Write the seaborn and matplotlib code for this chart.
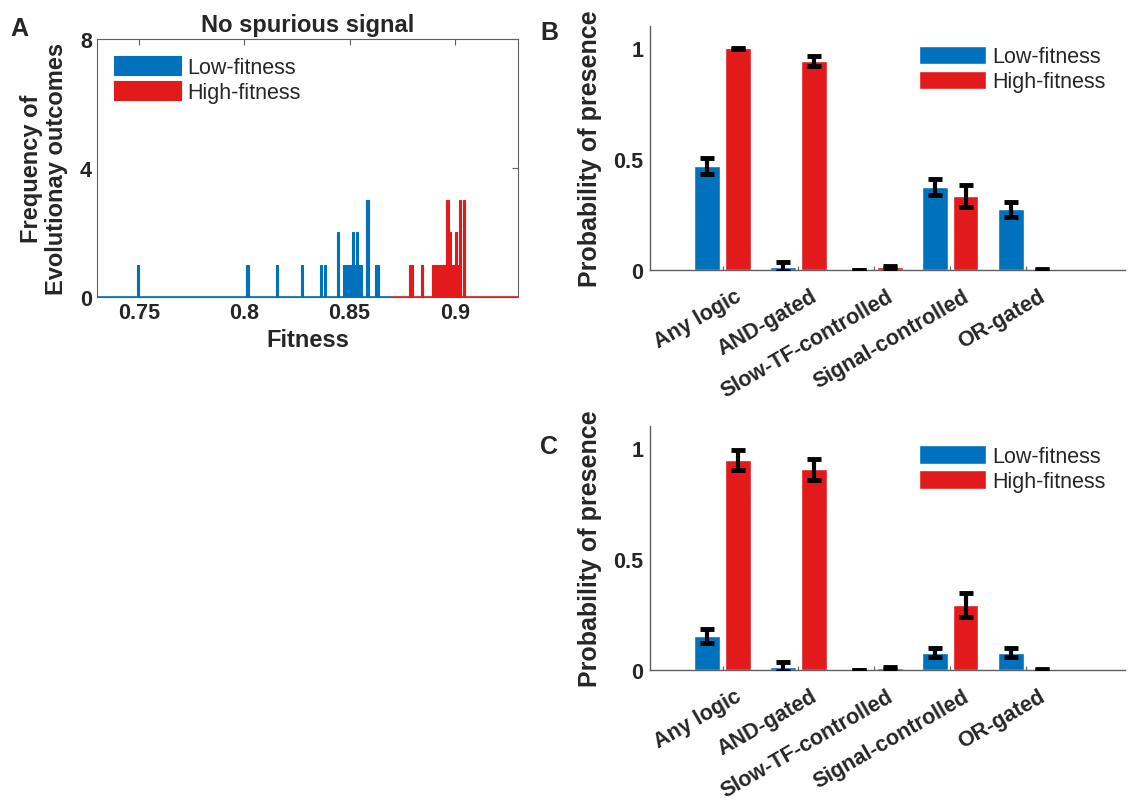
import numpy as np
import pandas as pd
import matplotlib
matplotlib.use("Agg")
import matplotlib.pyplot as plt
import matplotlib.transforms as mtransforms
import seaborn as sns

# panel A: fitness of individual evolutionary outcomes
low_fitness = [0.7495, 0.8015, 0.8155, 0.8275, 0.8365, 0.8385, 0.8445, 0.8445,
               0.8475, 0.8485, 0.8495, 0.8505, 0.8515, 0.8515, 0.8525, 0.8535,
               0.8535, 0.8545, 0.8555, 0.8585, 0.8585, 0.8585, 0.8625, 0.8635]
high_fitness = [0.8785, 0.8795, 0.8845, 0.8895, 0.8905, 0.8915, 0.8925, 0.8935,
                0.8945, 0.8955, 0.8965, 0.8965, 0.8965, 0.8975, 0.8975, 0.8985,
                0.8995, 0.9005, 0.9005, 0.9015, 0.9025, 0.9025, 0.9025,
                0.9045, 0.9045, 0.9045]
low_range = (0.73, 0.87)
high_range = (0.87, 0.93)

# panels B and C: probability of presence
categories = ["Any logic", "AND-gated", "Slow-TF-controlled", "Signal-controlled", "OR-gated"]
b_low = [0.47, 0.015, 0.0, 0.375, 0.275]
b_low_err = [0.037, 0.02, 0.0, 0.036, 0.034]
b_high = [1.0, 0.945, 0.015, 0.333, 0.003]
b_high_err = [0.002, 0.022, 0.005, 0.05, 0.003]
c_low = [0.153, 0.015, 0.0, 0.078, 0.078]
c_low_err = [0.031, 0.02, 0.0, 0.021, 0.021]
c_high = [0.947, 0.905, 0.008, 0.293, 0.003]
c_high_err = [0.045, 0.048, 0.004, 0.052, 0.003]

blue = "#0072BD"
red = "#E31A1C"
txt = "#262626"
spine = "#606060"

sns.set_style("white")
plt.rcParams["font.family"] = ["Liberation Sans", "DejaVu Sans"]
plt.rcParams["text.color"] = txt
plt.rcParams["axes.labelcolor"] = txt
plt.rcParams["xtick.color"] = txt
plt.rcParams["ytick.color"] = txt

fig = plt.figure(figsize=(11.33, 8.03), dpi=100)

leg_kw = dict(frameon=False, fontsize=15.5, handlelength=3.1, handleheight=0.95,
              handletextpad=0.3, labelspacing=0.15)

# ---- panel A ----
axA = fig.add_axes([0.0856, 0.629, 0.3716, 0.321])
sns.histplot(x=low_fitness, binwidth=0.001, binrange=low_range, color=blue,
             alpha=1, edgecolor=blue, linewidth=0.8, ax=axA, label="Low-fitness")
sns.histplot(x=high_fitness, binwidth=0.001, binrange=high_range, color=red,
             alpha=1, edgecolor=red, linewidth=0.8, ax=axA, label="High-fitness")
# empty bins show up as a coloured line along the baseline
axA.hlines(0, *low_range, color=blue, lw=1.2, clip_on=False, zorder=3)
axA.hlines(0, *high_range, color=red, lw=1.2, clip_on=False, zorder=3)
axA.set_xlim(0.73, 0.93)
axA.set_ylim(0, 8)
axA.set_xticks([0.75, 0.8, 0.85, 0.9])
axA.set_xticklabels(["0.75", "0.8", "0.85", "0.9"])
axA.set_yticks([0, 4, 8])
axA.tick_params(direction="in", top=True, right=True, length=4, width=0.8,
                labelsize=15.5, colors=spine, labelcolor=txt)
for lab in axA.get_xticklabels() + axA.get_yticklabels():
    lab.set_fontweight("bold")
for s in axA.spines.values():
    s.set_color(spine)
    s.set_linewidth(0.8)
axA.set_xlabel("Fitness", fontsize=17, fontweight="bold", labelpad=4)
axA.set_ylabel("Frequency of\nEvolutionay outcomes", fontsize=17, fontweight="bold",
               labelpad=9, linespacing=1.1)
axA.set_title("No spurious signal", fontsize=17, fontweight="bold", pad=6)
axA.legend(loc="upper left", borderaxespad=0.4, **leg_kw)


def bar_panel(ax, low, low_err, high, high_err):
    df = pd.DataFrame({
        "category": categories * 2,
        "prob": low + high,
        "group": ["Low-fitness"] * len(categories) + ["High-fitness"] * len(categories),
    })
    sns.barplot(data=df, x="category", y="prob", hue="group",
                palette=[blue, red], gap=0.15, width=0.8, errorbar=None,
                saturation=1, ax=ax)
    for cont, errs in zip(ax.containers, [low_err, high_err]):
        for bar, e in zip(cont, errs):
            ax.errorbar(bar.get_x() + bar.get_width() / 2, bar.get_height(), yerr=e,
                        fmt="none", ecolor="black", elinewidth=3, capsize=5,
                        capthick=3.5, zorder=5)
    ax.set_xlim(-0.95, 5.3)
    ax.set_ylim(0, 1.1)
    ax.set_yticks([0, 0.5, 1])
    ax.set_yticklabels(["0", "0.5", "1"])
    ax.set_xlabel("")
    ax.set_ylabel("Probability of presence", fontsize=18, fontweight="bold", labelpad=8)
    ax.tick_params(axis="y", direction="in", length=4, width=0.8, labelsize=15.5,
                   colors=spine, labelcolor=txt, pad=5)
    ax.tick_params(axis="x", direction="in", length=3, width=0.8, labelsize=15.5,
                   colors=spine, labelcolor=txt, bottom=True, pad=6)
    shift = mtransforms.ScaledTranslation(0.12, -0.07, fig.dpi_scale_trans)
    for lab in ax.get_xticklabels():
        lab.set_rotation(30)
        lab.set_ha("right")
        lab.set_rotation_mode("anchor")
        lab.set_fontweight("bold")
        lab.set_transform(lab.get_transform() + shift)
    plt.setp(ax.get_yticklabels(), fontweight="bold")
    sns.despine(ax=ax)
    for side in ["left", "bottom"]:
        ax.spines[side].set_color(spine)
        ax.spines[side].set_linewidth(1.0)
    ax.legend(loc="upper right", bbox_to_anchor=(1.0, 1.0), **leg_kw)


axB = fig.add_axes([0.574, 0.6625, 0.419, 0.3035])
bar_panel(axB, b_low, b_low_err, b_high, b_high_err)
axC = fig.add_axes([0.574, 0.1644, 0.419, 0.3038])
bar_panel(axC, c_low, c_low_err, c_high, c_high_err)

fig.text(0.009, 0.955, "A", fontsize=18, fontweight="bold")
fig.text(0.477, 0.950, "B", fontsize=18, fontweight="bold")
fig.text(0.477, 0.435, "C", fontsize=18, fontweight="bold")

fig.savefig("out.png", dpi=100)
